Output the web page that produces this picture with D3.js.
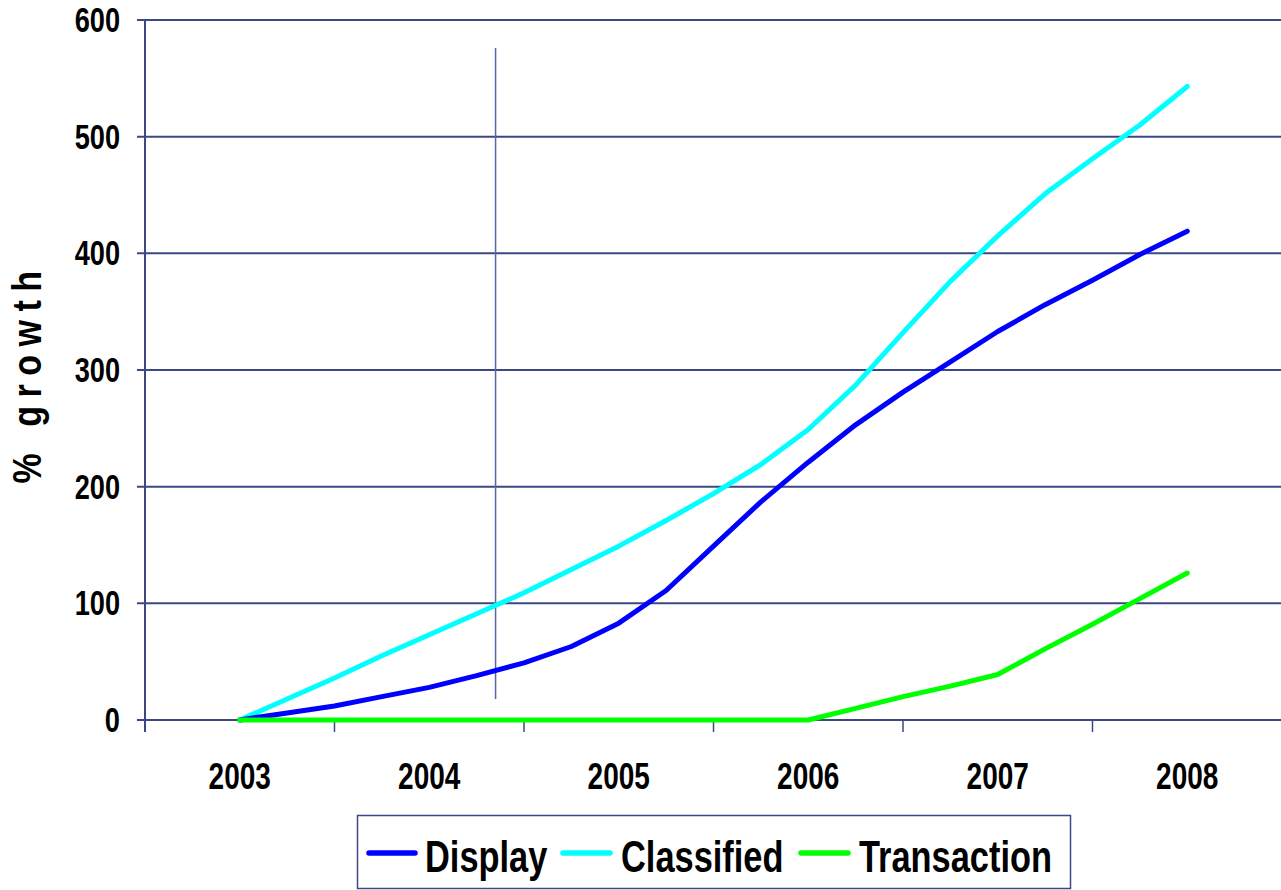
<!DOCTYPE html>
<html>
<head>
<meta charset="utf-8">
<script src="https://cdn.jsdelivr.net/npm/d3@7"></script>
<style>
  html, body { margin: 0; padding: 0; background: #fff; }
  svg { display: block; }
  text { font-family: "Liberation Sans", Arial, sans-serif; font-weight: bold; fill: #000; }
</style>
</head>
<body>
<svg id="chart" width="1281" height="890"></svg>
<script>
// Category labels on the x axis
const years = ["2003", "2004", "2005", "2006", "2007", "2008"];

// Quarterly observation points (fractional years)
const quarters = [
  2003.00, 2003.25, 2003.50, 2003.75,
  2004.00, 2004.25, 2004.50, 2004.75,
  2005.00, 2005.25, 2005.50, 2005.75,
  2006.00, 2006.25, 2006.50, 2006.75,
  2007.00, 2007.25, 2007.50, 2007.75,
  2008.00
];

// % growth per series, one value per quarter
const display = [0, 6, 12, 20, 28, 38, 49, 63, 83, 111, 149, 187, 221, 253, 281, 307, 333, 356, 377, 399, 419];
const classified = [0, 18, 36, 55, 73, 91, 109, 129, 149, 171, 194, 219, 249, 287, 332, 376, 415, 451, 481, 510, 543];
const transaction = [0, 0, 0, 0, 0, 0, 0, 0, 0, 0, 0, 0, 0, 10, 20, 29, 39, 61, 82, 104, 126];

const seriesNames = ["Display", "Classified", "Transaction"];
const seriesColors = ["#0000ff", "#00ffff", "#00ff00"];

// Y axis ticks
const yTicks = [0, 100, 200, 300, 400, 500, 600];

// Reference marker line (year, from value, to value)
const markerYear = 2004.35;
const markerSpan = [18, 576];

const svg = d3.select("#chart");
const axisColor = "#3c4884";

const plot = { left: 145, right: 1282, top: 20, bottom: 720 };

const xBand = d3.scaleBand().domain(years).range([plot.left, plot.right]);
const xYear = d3.scaleLinear()
  .domain([+years[0] - 0.5, +years[years.length - 1] + 0.5])
  .range([plot.left, plot.right]);
const y = d3.scaleLinear().domain([0, 600]).range([plot.bottom, plot.top]);

const condense = 0.8;

// Horizontal gridlines
svg.append("g").selectAll("line").data(yTicks).join("line")
  .attr("x1", plot.left - 8).attr("x2", 1281)
  .attr("y1", d => y(d)).attr("y2", d => y(d))
  .attr("stroke", axisColor).attr("stroke-width", 2);

// Y axis line
svg.append("line")
  .attr("x1", plot.left).attr("x2", plot.left)
  .attr("y1", plot.top).attr("y2", plot.bottom + 12)
  .attr("stroke", axisColor).attr("stroke-width", 2);

// X tick marks at band boundaries
svg.append("g").selectAll("line").data(years).join("line")
  .attr("x1", d => xBand(d)).attr("x2", d => xBand(d))
  .attr("y1", plot.bottom).attr("y2", plot.bottom + 12)
  .attr("stroke", axisColor).attr("stroke-width", 1.5);

// Y tick labels
svg.append("g").selectAll("text").data(yTicks).join("text")
  .attr("transform", d => `translate(${plot.left - 25},${y(d) + 12}) scale(${condense},1.04)`)
  .attr("text-anchor", "end")
  .style("font-size", "34px")
  .text(d => d);

// X category labels
svg.append("g").selectAll("text").data(years).join("text")
  .attr("transform", d => `translate(${xBand(d) + xBand.bandwidth() / 2},${789}) scale(${condense},1.04)`)
  .attr("text-anchor", "middle")
  .style("font-size", "35px")
  .text(d => d);

// Y axis title
svg.append("text")
  .attr("transform", `translate(41,${(plot.top + plot.bottom) / 2 + 3}) rotate(-90) scale(0.85,1)`)
  .attr("text-anchor", "middle")
  .style("font-size", "40px")
  .style("letter-spacing", "10px")
  .text("% growth");

// Marker line
svg.append("line")
  .attr("x1", xYear(markerYear)).attr("x2", xYear(markerYear))
  .attr("y1", y(markerSpan[1])).attr("y2", y(markerSpan[0]))
  .attr("stroke", "#5866a4").attr("stroke-width", 1.5);

// Series lines
const seriesData = [display, classified, transaction];
const line = d3.line()
  .x((d, i) => xYear(quarters[i]))
  .y(d => y(d));

// Green drawn last so its flat segment sits on top of the baseline start
const drawOrder = [1, 0, 2];
svg.append("g").selectAll("path").data(drawOrder).join("path")
  .attr("d", k => line(seriesData[k]))
  .attr("fill", "none")
  .attr("stroke", k => seriesColors[k])
  .attr("stroke-width", 5)
  .attr("stroke-linejoin", "round")
  .attr("stroke-linecap", "round");

// Legend
const legend = svg.append("g");
legend.append("rect")
  .attr("x", 357.5).attr("y", 815.5)
  .attr("width", 713).attr("height", 73)
  .attr("fill", "#fff")
  .attr("stroke", axisColor).attr("stroke-width", 1.5);

const legendItems = [
  { name: seriesNames[0], color: seriesColors[0], x0: 369, x1: 415, tx: 425 },
  { name: seriesNames[1], color: seriesColors[1], x0: 563, x1: 610, tx: 621 },
  { name: seriesNames[2], color: seriesColors[2], x0: 801, x1: 848, tx: 859 }
];
const lg = legend.selectAll("g").data(legendItems).join("g");
lg.append("line")
  .attr("x1", d => d.x0).attr("x2", d => d.x1)
  .attr("y1", 853).attr("y2", 853)
  .attr("stroke", d => d.color).attr("stroke-width", 5.5)
  .attr("stroke-linecap", "round");
lg.append("text")
  .attr("transform", d => `translate(${d.tx},872) scale(${condense},1.03)`)
  .style("font-size", "43px")
  .text(d => d.name);
</script>
</body>
</html>
